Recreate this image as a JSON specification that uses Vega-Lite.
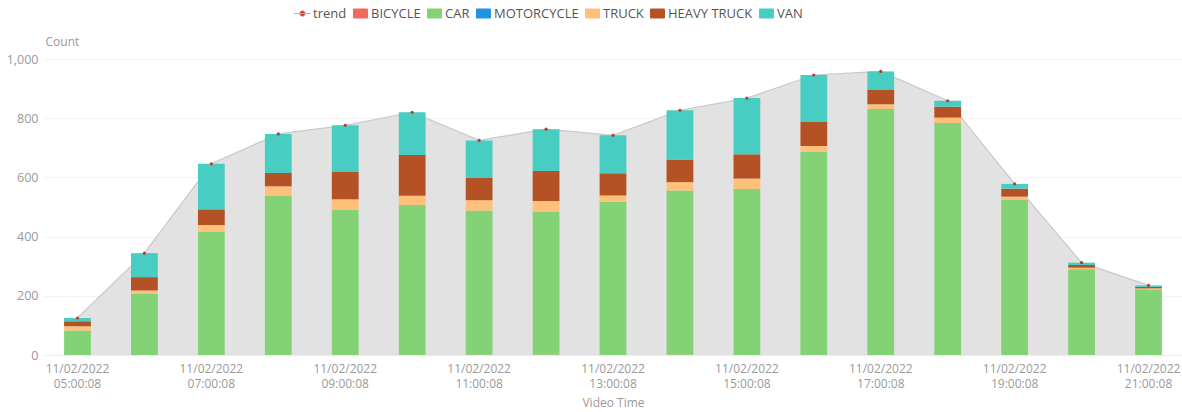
{
  "$schema": "https://vega.github.io/schema/vega-lite/v6.json",
  "autosize": {"type": "none"},
  "padding": {"left": 44, "top": 59, "right": 0, "bottom": 57},
  "width": 1138,
  "height": 296,
  "background": "white",
  "config": {
    "view": {"stroke": null},
    "font": "Open Sans",
    "axis": {"labelFont": "Open Sans", "titleFont": "Open Sans", "labelColor": "#9a9a9a", "titleColor": "#9a9a9a", "titleFontWeight": "normal", "labelFontSize": 12, "titleFontSize": 12},
    "legend": {"labelFont": "Open Sans", "gridAlign": "none"}
  },
  "datasets": {
    "counts": [
      {"time": "11/02/2022 05:00:08", "type": "CAR", "count": 83},
      {"time": "11/02/2022 05:00:08", "type": "TRUCK", "count": 14},
      {"time": "11/02/2022 05:00:08", "type": "HEAVY TRUCK", "count": 17},
      {"time": "11/02/2022 05:00:08", "type": "VAN", "count": 11},
      {"time": "11/02/2022 06:00:08", "type": "CAR", "count": 206},
      {"time": "11/02/2022 06:00:08", "type": "TRUCK", "count": 12},
      {"time": "11/02/2022 06:00:08", "type": "HEAVY TRUCK", "count": 45},
      {"time": "11/02/2022 06:00:08", "type": "VAN", "count": 81},
      {"time": "11/02/2022 07:00:08", "type": "CAR", "count": 417},
      {"time": "11/02/2022 07:00:08", "type": "TRUCK", "count": 22},
      {"time": "11/02/2022 07:00:08", "type": "HEAVY TRUCK", "count": 53},
      {"time": "11/02/2022 07:00:08", "type": "VAN", "count": 154},
      {"time": "11/02/2022 08:00:08", "type": "CAR", "count": 537},
      {"time": "11/02/2022 08:00:08", "type": "TRUCK", "count": 33},
      {"time": "11/02/2022 08:00:08", "type": "HEAVY TRUCK", "count": 45},
      {"time": "11/02/2022 08:00:08", "type": "VAN", "count": 132},
      {"time": "11/02/2022 09:00:08", "type": "CAR", "count": 490},
      {"time": "11/02/2022 09:00:08", "type": "TRUCK", "count": 36},
      {"time": "11/02/2022 09:00:08", "type": "HEAVY TRUCK", "count": 94},
      {"time": "11/02/2022 09:00:08", "type": "VAN", "count": 156},
      {"time": "11/02/2022 10:00:08", "type": "CAR", "count": 507},
      {"time": "11/02/2022 10:00:08", "type": "TRUCK", "count": 31},
      {"time": "11/02/2022 10:00:08", "type": "HEAVY TRUCK", "count": 138},
      {"time": "11/02/2022 10:00:08", "type": "VAN", "count": 144},
      {"time": "11/02/2022 11:00:08", "type": "BICYCLE", "count": 1},
      {"time": "11/02/2022 11:00:08", "type": "CAR", "count": 487},
      {"time": "11/02/2022 11:00:08", "type": "TRUCK", "count": 35},
      {"time": "11/02/2022 11:00:08", "type": "HEAVY TRUCK", "count": 75},
      {"time": "11/02/2022 11:00:08", "type": "VAN", "count": 127},
      {"time": "11/02/2022 12:00:08", "type": "BICYCLE", "count": 1},
      {"time": "11/02/2022 12:00:08", "type": "CAR", "count": 484},
      {"time": "11/02/2022 12:00:08", "type": "TRUCK", "count": 35},
      {"time": "11/02/2022 12:00:08", "type": "HEAVY TRUCK", "count": 102},
      {"time": "11/02/2022 12:00:08", "type": "VAN", "count": 141},
      {"time": "11/02/2022 13:00:08", "type": "CAR", "count": 518},
      {"time": "11/02/2022 13:00:08", "type": "TRUCK", "count": 21},
      {"time": "11/02/2022 13:00:08", "type": "HEAVY TRUCK", "count": 75},
      {"time": "11/02/2022 13:00:08", "type": "VAN", "count": 128},
      {"time": "11/02/2022 14:00:08", "type": "BICYCLE", "count": 1},
      {"time": "11/02/2022 14:00:08", "type": "CAR", "count": 555},
      {"time": "11/02/2022 14:00:08", "type": "TRUCK", "count": 28},
      {"time": "11/02/2022 14:00:08", "type": "HEAVY TRUCK", "count": 76},
      {"time": "11/02/2022 14:00:08", "type": "VAN", "count": 167},
      {"time": "11/02/2022 15:00:08", "type": "CAR", "count": 561},
      {"time": "11/02/2022 15:00:08", "type": "TRUCK", "count": 35},
      {"time": "11/02/2022 15:00:08", "type": "HEAVY TRUCK", "count": 82},
      {"time": "11/02/2022 15:00:08", "type": "VAN", "count": 190},
      {"time": "11/02/2022 16:00:08", "type": "CAR", "count": 686},
      {"time": "11/02/2022 16:00:08", "type": "TRUCK", "count": 20},
      {"time": "11/02/2022 16:00:08", "type": "HEAVY TRUCK", "count": 83},
      {"time": "11/02/2022 16:00:08", "type": "VAN", "count": 157},
      {"time": "11/02/2022 17:00:08", "type": "CAR", "count": 831},
      {"time": "11/02/2022 17:00:08", "type": "TRUCK", "count": 16},
      {"time": "11/02/2022 17:00:08", "type": "HEAVY TRUCK", "count": 50},
      {"time": "11/02/2022 17:00:08", "type": "VAN", "count": 61},
      {"time": "11/02/2022 18:00:08", "type": "CAR", "count": 784},
      {"time": "11/02/2022 18:00:08", "type": "TRUCK", "count": 18},
      {"time": "11/02/2022 18:00:08", "type": "HEAVY TRUCK", "count": 37},
      {"time": "11/02/2022 18:00:08", "type": "VAN", "count": 20},
      {"time": "11/02/2022 19:00:08", "type": "CAR", "count": 525},
      {"time": "11/02/2022 19:00:08", "type": "TRUCK", "count": 10},
      {"time": "11/02/2022 19:00:08", "type": "HEAVY TRUCK", "count": 27},
      {"time": "11/02/2022 19:00:08", "type": "VAN", "count": 16},
      {"time": "11/02/2022 20:00:08", "type": "CAR", "count": 290},
      {"time": "11/02/2022 20:00:08", "type": "TRUCK", "count": 5},
      {"time": "11/02/2022 20:00:08", "type": "HEAVY TRUCK", "count": 9},
      {"time": "11/02/2022 20:00:08", "type": "VAN", "count": 8},
      {"time": "11/02/2022 21:00:08", "type": "CAR", "count": 222},
      {"time": "11/02/2022 21:00:08", "type": "TRUCK", "count": 3},
      {"time": "11/02/2022 21:00:08", "type": "HEAVY TRUCK", "count": 5},
      {"time": "11/02/2022 21:00:08", "type": "VAN", "count": 5}
    ],
    "trend": [
      {"time": "11/02/2022 05:00:08", "total": 125},
      {"time": "11/02/2022 06:00:08", "total": 344},
      {"time": "11/02/2022 07:00:08", "total": 646},
      {"time": "11/02/2022 08:00:08", "total": 747},
      {"time": "11/02/2022 09:00:08", "total": 776},
      {"time": "11/02/2022 10:00:08", "total": 820},
      {"time": "11/02/2022 11:00:08", "total": 725},
      {"time": "11/02/2022 12:00:08", "total": 763},
      {"time": "11/02/2022 13:00:08", "total": 742},
      {"time": "11/02/2022 14:00:08", "total": 827},
      {"time": "11/02/2022 15:00:08", "total": 868},
      {"time": "11/02/2022 16:00:08", "total": 946},
      {"time": "11/02/2022 17:00:08", "total": 958},
      {"time": "11/02/2022 18:00:08", "total": 859},
      {"time": "11/02/2022 19:00:08", "total": 578},
      {"time": "11/02/2022 20:00:08", "total": 312},
      {"time": "11/02/2022 21:00:08", "total": 235}
    ]
  },
  "encoding": {
    "x": {
      "field": "time", "type": "nominal", "sort": null,
      "scale": {"type": "band", "paddingInner": 0, "paddingOuter": 0},
      "axis": {
        "title": "Video Time", "labelAngle": 0, "ticks": false, "domain": true, "domainColor": "#ececec",
        "labelOverlap": false, "labelPadding": 8, "labelLineHeight": 15, "titlePadding": 8,
        "labelExpr": "toNumber(slice(datum.value, 11, 13)) % 2 == 1 ? split(datum.value, ' ') : ''"
      }
    }
  },
  "layer": [
    {
      "data": {"name": "trend"},
      "mark": {"type": "area", "color": "#e2e2e2", "opacity": 1, "line": {"color": "#c9c9c9", "strokeWidth": 1.2}},
      "encoding": {
        "y": {
          "field": "total", "type": "quantitative",
          "scale": {"domain": [0, 1000], "nice": false},
          "axis": {
            "title": "Count", "titleAngle": 0, "titleAlign": "left", "titleBaseline": "alphabetic",
            "titleX": 1, "titleY": -14, "values": [0, 200, 400, 600, 800, 1000], "format": ",.0f",
            "ticks": false, "domain": false, "gridColor": "#f3f3f3", "labelPadding": 6, "labelFontSize": 12.5
          }
        }
      }
    },
    {
      "data": {"name": "counts"},
      "transform": [
        {"calculate": "indexof(['BICYCLE', 'CAR', 'MOTORCYCLE', 'TRUCK', 'HEAVY TRUCK', 'VAN'], datum.type)", "as": "stackOrder"}
      ],
      "mark": {"type": "bar", "width": {"band": 0.4}},
      "encoding": {
        "y": {"field": "count", "type": "quantitative", "aggregate": "sum", "stack": "zero"},
        "order": {"field": "stackOrder", "type": "quantitative", "sort": "ascending"},
        "color": {
          "field": "type", "type": "nominal",
          "sort": ["trend", "BICYCLE", "CAR", "MOTORCYCLE", "TRUCK", "HEAVY TRUCK", "VAN"],
          "scale": {
            "domain": ["trend", "BICYCLE", "CAR", "MOTORCYCLE", "TRUCK", "HEAVY TRUCK", "VAN"],
            "range": ["#c23531", "#ef6b60", "#83d276", "#1f93e4", "#ffc079", "#b45226", "#47cdc1"]
          },
          "legend": {
            "title": null, "orient": "none", "direction": "horizontal", "legendX": 252, "legendY": -52,
            "symbolSize": 100, "labelFontSize": 13, "labelColor": "#555555", "columnPadding": 4, "labelOffset": 4,
            "symbolType": "M-1.3,-1H1.3Q1.5,-1,1.5,-0.8V0.8Q1.5,1,1.3,1H-1.3Q-1.5,1,-1.5,0.8V-0.8Q-1.5,-1,-1.3,-1Z",
            "encode": {
              "symbols": {
                "update": {
                  "shape": {"signal": "datum.value === 'trend' ? 'M-1.7,0H1.7M-0.55,0A0.55,0.55,0,1,1,0.55,0A0.55,0.55,0,1,1,-0.55,0' : 'M-1.3,-1H1.3Q1.5,-1,1.5,-0.8V0.8Q1.5,1,1.3,1H-1.3Q-1.5,1,-1.5,0.8V-0.8Q-1.5,-1,-1.3,-1Z'"},
                  "stroke": {"signal": "datum.value === 'trend' ? '#e6a0a0' : 'transparent'"},
                  "strokeWidth": {"value": 1}
                }
              }
            }
          }
        }
      }
    },
    {
      "data": {"name": "trend"},
      "mark": {"type": "point", "filled": true, "size": 10, "opacity": 1},
      "encoding": {
        "y": {"field": "total", "type": "quantitative"},
        "color": {"datum": "trend", "type": "nominal"}
      }
    }
  ]
}
